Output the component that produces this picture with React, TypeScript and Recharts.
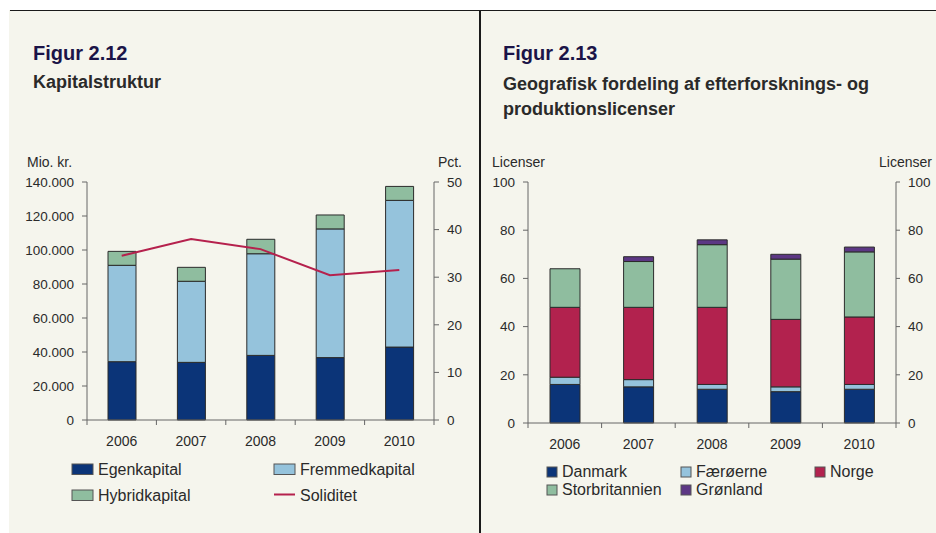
import React from 'react';
import { ComposedChart, BarChart, Bar, Line, XAxis, YAxis } from 'recharts';

const years = ['2006', '2007', '2008', '2009', '2010'];

// Figur 2.12 (mio. kr. / pct.)
const egenkapital = [34300, 33900, 38000, 36700, 42900];
const fremmedkapital = [56700, 47700, 59800, 75700, 86300];
const hybridkapital = [8200, 8200, 8500, 8200, 8200];
const soliditet = [34.5, 38.0, 35.9, 30.4, 31.5];
const kapitalTicks = [0, 20000, 40000, 60000, 80000, 100000, 120000, 140000];
const pctTicks = [0, 10, 20, 30, 40, 50];

// Figur 2.13 (licenser)
const danmark = [16, 15, 14, 13, 14];
const faeroerne = [3, 3, 2, 2, 2];
const norge = [29, 30, 32, 28, 28];
const storbritannien = [16, 19, 26, 25, 27];
const groenland = [0, 2, 2, 2, 2];
const licensTicks = [0, 20, 40, 60, 80, 100];

const C = {
  navy: '#0b3478',
  lightBlue: '#95c3dc',
  green: '#8fbd9f',
  crimson: '#b2224e',
  purple: '#5c3784',
  line: '#b5214d',
  bg: '#f5f5ed',
  axis: '#666',
  text: '#2a2a2a',
  title: '#1b1448',
};

const FONT = '"Liberation Sans", Arial, sans-serif';

const kapitalData = years.map((year, i) => ({
  year,
  egen: egenkapital[i],
  fremmed: fremmedkapital[i],
  hybrid: hybridkapital[i],
  soliditet: soliditet[i],
}));

const licensData = years.map((year, i) => ({
  year,
  dk: danmark[i],
  fo: faeroerne[i],
  no: norge[i],
  uk: storbritannien[i],
  gl: groenland[i],
}));

const fmtThousands = (v: number) => String(v).replace(/\B(?=(\d{3})+(?!\d))/g, '.');

// category tick: label in the middle, tick marks at the band boundaries
const BandTick = (props: any) => {
  const { x, y, payload, index, visibleTicksCount } = props;
  const off = payload?.offset ?? 0;
  const last = index === visibleTicksCount - 1;
  return (
    <g>
      <line x1={x - off} x2={x - off} y1={y} y2={y + 5} stroke={C.axis} />
      {last && <line x1={x + off} x2={x + off} y1={y} y2={y + 5} stroke={C.axis} />}
      <text x={x} y={y + 26} textAnchor="middle" fontSize={14} fontFamily={FONT} fill={C.text}>
        {payload.value}
      </text>
    </g>
  );
};

const tickStyle = { fontSize: 13.5, fontFamily: FONT, fill: C.text };
const barStroke = { stroke: '#2b2b2b', strokeWidth: 1 };

const kapitalLegend = [
  { name: 'Egenkapital', color: C.navy, kind: 'box', x: 72, y: 464 },
  { name: 'Fremmedkapital', color: C.lightBlue, kind: 'box', x: 274, y: 464 },
  { name: 'Hybridkapital', color: C.green, kind: 'box', x: 72, y: 490 },
  { name: 'Soliditet', color: C.line, kind: 'line', x: 274, y: 490 },
];

const licensLegend = [
  { name: 'Danmark', color: C.navy, x: 547, y: 467 },
  { name: 'Færøerne', color: C.lightBlue, x: 681, y: 467 },
  { name: 'Norge', color: C.crimson, x: 815, y: 467 },
  { name: 'Storbritannien', color: C.green, x: 547, y: 485 },
  { name: 'Grønland', color: C.purple, x: 681, y: 485 },
];

export default function App() {
  return (
    <div style={{ position: 'absolute', left: 0, top: 0, width: 936, height: 533, background: '#fff', overflow: 'hidden' }}>
      <div style={{ position: 'absolute', left: 9, top: 10, width: 927, height: 523, background: C.bg }} />
      <div style={{ position: 'absolute', left: 10, top: 10, width: 926, height: 1, background: '#1a1a1a' }} />
      <div style={{ position: 'absolute', left: 479, top: 10, width: 1.5, height: 523, background: '#1a1a1a' }} />

      <div style={{ position: 'absolute', left: 0, top: 150 }}>
        <ComposedChart width={480} height={310} data={kapitalData} margin={{ top: 32, right: 6, left: 27, bottom: 10 }}>
          <XAxis dataKey="year" stroke={C.axis} tickLine={false} tickSize={0} tickMargin={0} height={30} tick={<BandTick />} interval={0} />
          <YAxis
            yAxisId="kr"
            width={60}
            domain={[0, 140000]}
            ticks={kapitalTicks}
            tickFormatter={fmtThousands}
            stroke={C.axis}
            tickSize={5}
            tickMargin={8}
            tick={tickStyle}
            interval={0}
          />
          <YAxis
            yAxisId="pct"
            orientation="right"
            width={40}
            domain={[0, 50]}
            ticks={pctTicks}
            stroke={C.axis}
            tickSize={5}
            tickMargin={8}
            tick={{ ...tickStyle, textAnchor: 'start' }}
            interval={0}
          />
          <Bar yAxisId="kr" dataKey="egen" stackId="k" fill={C.navy} barSize={28} {...barStroke} isAnimationActive={false} />
          <Bar yAxisId="kr" dataKey="fremmed" stackId="k" fill={C.lightBlue} barSize={28} {...barStroke} isAnimationActive={false} />
          <Bar yAxisId="kr" dataKey="hybrid" stackId="k" fill={C.green} barSize={28} {...barStroke} isAnimationActive={false} />
          <Line yAxisId="pct" dataKey="soliditet" type="linear" stroke={C.line} strokeWidth={2} dot={false} isAnimationActive={false} />
        </ComposedChart>
      </div>

      <div style={{ position: 'absolute', left: 480, top: 150 }}>
        <BarChart width={456} height={310} data={licensData} margin={{ top: 32, right: 10, left: 8, bottom: 7 }}>
          <XAxis dataKey="year" stroke={C.axis} tickLine={false} tickSize={0} tickMargin={0} height={30} tick={<BandTick />} interval={0} />
          <YAxis
            yAxisId="l"
            width={40}
            domain={[0, 100]}
            ticks={licensTicks}
            stroke={C.axis}
            tickSize={5}
            tickMargin={8}
            tick={tickStyle}
            interval={0}
          />
          <YAxis
            yAxisId="r"
            orientation="right"
            width={30}
            domain={[0, 100]}
            ticks={licensTicks}
            stroke={C.axis}
            tickSize={4}
            tickMargin={8}
            tick={{ ...tickStyle, textAnchor: 'start' }}
            interval={0}
            allowDataOverflow
          />
          <Bar yAxisId="l" dataKey="dk" stackId="g" fill={C.navy} barSize={30} {...barStroke} isAnimationActive={false} />
          <Bar yAxisId="l" dataKey="fo" stackId="g" fill={C.lightBlue} barSize={30} {...barStroke} isAnimationActive={false} />
          <Bar yAxisId="l" dataKey="no" stackId="g" fill={C.crimson} barSize={30} {...barStroke} isAnimationActive={false} />
          <Bar yAxisId="l" dataKey="uk" stackId="g" fill={C.green} barSize={30} {...barStroke} isAnimationActive={false} />
          <Bar yAxisId="l" dataKey="gl" stackId="g" fill={C.purple} barSize={30} {...barStroke} isAnimationActive={false} />
        </BarChart>
      </div>

      <svg width={936} height={533} style={{ position: 'absolute', left: 0, top: 0, pointerEvents: 'none' }} fontFamily={FONT}>
        <text x={33} y={60} fontSize={20} fontWeight="bold" fill={C.title}>Figur 2.12</text>
        <text x={33} y={88} fontSize={18} fontWeight="bold" fill={C.text}>Kapitalstruktur</text>
        <text x={503} y={60} fontSize={20} fontWeight="bold" fill={C.title}>Figur 2.13</text>
        <text x={503} y={90} fontSize={18} fontWeight="bold" fill={C.text}>Geografisk fordeling af efterforsknings- og</text>
        <text x={503} y={115} fontSize={18} fontWeight="bold" fill={C.text}>produktionslicenser</text>

        <text x={27} y={167} fontSize={14} fill={C.text}>Mio. kr.</text>
        <text x={462} y={167} fontSize={14} fill={C.text} textAnchor="end">Pct.</text>
        <text x={492} y={167} fontSize={14} fill={C.text}>Licenser</text>
        <text x={932} y={167} fontSize={14} fill={C.text} textAnchor="end">Licenser</text>

        {kapitalLegend.map((l) => (
          <g key={l.name}>
            {l.kind === 'box' ? (
              <rect x={l.x} y={l.y} width={21} height={10.5} fill={l.color} stroke="#555" strokeWidth={1} />
            ) : (
              <line x1={l.x} x2={l.x + 21} y1={l.y + 4.5} y2={l.y + 4.5} stroke={l.color} strokeWidth={2} />
            )}
            <text x={l.x + 26} y={l.y + 11} fontSize={16} fill={C.text}>{l.name}</text>
          </g>
        ))}

        {licensLegend.map((l) => (
          <g key={l.name}>
            <rect x={l.x} y={l.y} width={10} height={10} fill={l.color} stroke="#555" strokeWidth={1} />
            <text x={l.x + 15} y={l.y + 10} fontSize={16} fill={C.text}>{l.name}</text>
          </g>
        ))}
      </svg>
    </div>
  );
}
